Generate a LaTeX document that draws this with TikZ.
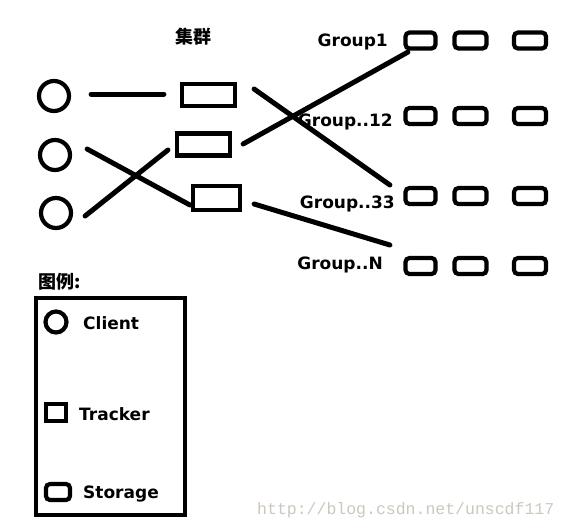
\documentclass[tikz,border=0pt]{standalone}
\usepackage{fontspec}
\setmainfont{DejaVu Sans}
\newfontfamily\cjkfont{Noto Sans CJK SC}
\newfontfamily\wmfont{Liberation Mono}
\begin{document}
\begin{tikzpicture}[x=1pt,y=-1pt,
  conn/.style={line width=5pt,line cap=round},
  client/.style={circle,draw,line width=4.2pt,minimum size=30pt,inner sep=0pt},
  tracker/.style={rectangle,draw,line width=4.2pt,inner sep=0pt,minimum width=53pt,minimum height=22pt},
  storage/.style={rectangle,draw,line width=4.2pt,rounded corners=4pt,minimum width=30pt,minimum height=16pt,inner sep=0pt},
  lbl/.style={inner sep=0pt,font=\fontsize{17}{20}\selectfont\bfseries},
  cjk/.style={inner sep=0pt,font=\fontsize{18}{22}\selectfont\cjkfont\bfseries},
  ]
\fill[white] (0,0) rectangle (567,530);
\useasboundingbox (0,0) rectangle (567,530);

% title
\node[cjk,anchor=base] (title) at (193,43) {集群};

% clients
\node[client] (c1) at (54,96) {};
\node[client] (c2) at (55,155) {};
\node[client] (c3) at (56,213) {};

% trackers
\node[tracker] (t1) at (208.5,95) {};
\node[tracker] (t2) at (203.5,144.5) {};
\node[tracker,minimum width=47pt,minimum height=24pt] (t3) at (216.5,198) {};

% storage groups
\foreach \r/\y in {1/40.5,2/116,3/196,4/266}{
  \node[storage] (s\r1) at (420.5,\y) {};
  \node[storage,minimum width=32pt] (s\r2) at (470.5,\y) {};
  \node[storage,minimum width=32pt] (s\r3) at (530,\y) {};
}

% group labels
\node[lbl,anchor=base east] (g1) at (388,46) {Group1};
\node[lbl,anchor=base east] (g12) at (393,126) {Group..12};
\node[lbl,anchor=base east] (g33) at (395,208) {Group..33};
\node[lbl,anchor=base east] (gn) at (383,269) {Group..N};

% connectors
\draw[conn] ([shift={(20,-2)}]c1.east) -- ([shift={(-16,-1)}]t1.west);
\draw[conn] ([shift={(15,-6)}]c2.east) -- ([shift={(-1,7)}]t3.west);
\draw[conn] ([shift={(12,3)}]c3.east) -- ([shift={(-7,5.5)}]t2.west);
\draw[conn] ([shift={(17,-6)}]t1.east) -- ([shift={(-13.5,-11)}]s31.west);
\draw[conn] ([shift={(11,-0.5)}]t2.east) -- ([shift={(4.5,1.5)}]s11.south west);
\draw[conn] ([shift={(12,6)}]t3.east) -- ([shift={(-13.5,-21)}]s41.west);

% legend
\node[cjk,anchor=base west] (legtitle) at (38,288) {图例:};
\node[draw,line width=4.2pt,minimum width=149pt,minimum height=217pt,inner sep=0pt] (legend) at (110.5,406.5) {};
\node[client,minimum size=21pt] (lc) at (56,322) {};
\node[lbl,anchor=base west] (lct) at (83,329) {Client};
\node[tracker,minimum width=20pt,minimum height=17pt] (lt) at (56,412.5) {};
\node[lbl,anchor=base west] (ltt) at (79,420) {Tracker};
\node[storage,minimum width=24pt,minimum height=16pt] (ls) at (58,492) {};
\node[lbl,anchor=base west] (lst) at (83,498) {Storage};

% watermark
\node[inner sep=0pt,anchor=base west,text={rgb,255:red,205;green,200;blue,190},font=\fontsize{16.5}{20}\selectfont\wmfont] (wm) at (257,514) {http://blog.csdn.net/unscdf117};
\end{tikzpicture}
\end{document}
